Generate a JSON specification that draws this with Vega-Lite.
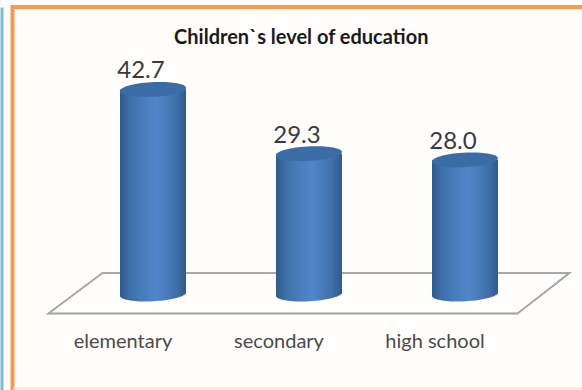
{
  "$schema": "https://vega.github.io/schema/vega-lite/v6.json",
  "width": 587.5,
  "height": 388,
  "autosize": "none",
  "padding": {"left": 12.5, "top": 7, "right": 0, "bottom": 0},
  "background": "#fffefd",
  "title": {
    "text": "Children`s level of education",
    "font": "Lato",
    "fontSize": 20,
    "fontWeight": "bold",
    "color": "#1a1a1a",
    "anchor": "middle",
    "baseline": "middle",
    "offset": -51,
    "dx": -5
  },
  "data": {
    "values": [
      {"level": "elementary", "share": 42.7},
      {"level": "secondary", "share": 29.3},
      {"level": "high school", "share": 28.0}
    ]
  },
  "config": {
    "view": {"stroke": "#f79a4f", "strokeWidth": 4, "fill": "#fffefd"}
  },
  "encoding": {
    "x": {
      "field": "level",
      "type": "nominal",
      "sort": null,
      "scale": {
        "type": "band",
        "domain": ["elementary", "secondary", "high school"],
        "paddingInner": 0,
        "paddingOuter": 0.383,
        "align": 0.523
      },
      "axis": {
        "title": null,
        "orient": "bottom",
        "offset": -7,
        "domainColor": "#fde3c8",
        "domainWidth": 2,
        "ticks": false,
        "grid": false,
        "labelAngle": 0,
        "labelOffset": -30,
        "labelPadding": -47,
        "labelBaseline": "middle",
        "labelFont": "Lato",
        "labelFontSize": 20,
        "labelColor": "#4a4a4a"
      }
    },
    "y": {
      "field": "share",
      "type": "quantitative",
      "scale": {"domain": [-21.09, 59.92], "nice": false, "zero": false},
      "axis": {
        "title": null,
        "orient": "left",
        "offset": 11,
        "domainColor": "#7fbccf",
        "domainWidth": 3,
        "ticks": false,
        "labels": false,
        "grid": false
      }
    }
  },
  "layer": [
    {
      "description": "Floor plane the cylinders stand on",
      "mark": {
        "type": "point",
        "shape": "M-0.794,-0.081L1.002,-0.081L0.802,0.075L-1.002,0.075Z",
        "size": 270400,
        "filled": false,
        "stroke": "#a8a8a8",
        "strokeWidth": 1.5,
        "opacity": 1
      },
      "encoding": {
        "x": {"datum": "secondary"},
        "y": {"datum": 0}
      }
    },
    {
      "description": "Rounded foot of each cylinder",
      "mark": {
        "type": "point",
        "shape": "M-1,0.03A1,0.22,-3,1,0,1,-0.03L1,-0.2L-1,-0.2Z",
        "size": 4356,
        "filled": true,
        "opacity": 1,
        "color": {
          "gradient": "linear", "x1": 0, "x2": 1, "y1": 0, "y2": 0,
          "stops": [
            {"offset": 0, "color": "#30598a"},
            {"offset": 0.15, "color": "#3f70aa"},
            {"offset": 0.55, "color": "#5087cb"},
            {"offset": 0.85, "color": "#3f70aa"},
            {"offset": 1, "color": "#30598a"}
          ]
        }
      },
      "encoding": {"y": {"datum": 0}}
    },
    {
      "description": "Cylinder body",
      "mark": {
        "type": "bar",
        "width": 66,
        "color": {
          "gradient": "linear", "x1": 0, "x2": 1, "y1": 0, "y2": 0,
          "stops": [
            {"offset": 0, "color": "#30598a"},
            {"offset": 0.15, "color": "#3f70aa"},
            {"offset": 0.55, "color": "#5087cb"},
            {"offset": 0.85, "color": "#3f70aa"},
            {"offset": 1, "color": "#30598a"}
          ]
        }
      }
    },
    {
      "description": "Cap of each cylinder",
      "mark": {
        "type": "point",
        "shape": "M-1,0.04A1,0.22,-3,1,1,1,-0.04A1,0.22,-3,1,1,-1,0.04Z",
        "size": 4356,
        "filled": true,
        "opacity": 1,
        "color": "#3a6da6"
      }
    },
    {
      "description": "Value labels",
      "mark": {
        "type": "text",
        "font": "Lato",
        "fontSize": 24,
        "color": "#3a3a3a",
        "dx": -12,
        "dy": -18,
        "baseline": "middle"
      },
      "encoding": {
        "text": {"field": "share", "type": "quantitative", "format": ".1f"}
      }
    }
  ]
}
